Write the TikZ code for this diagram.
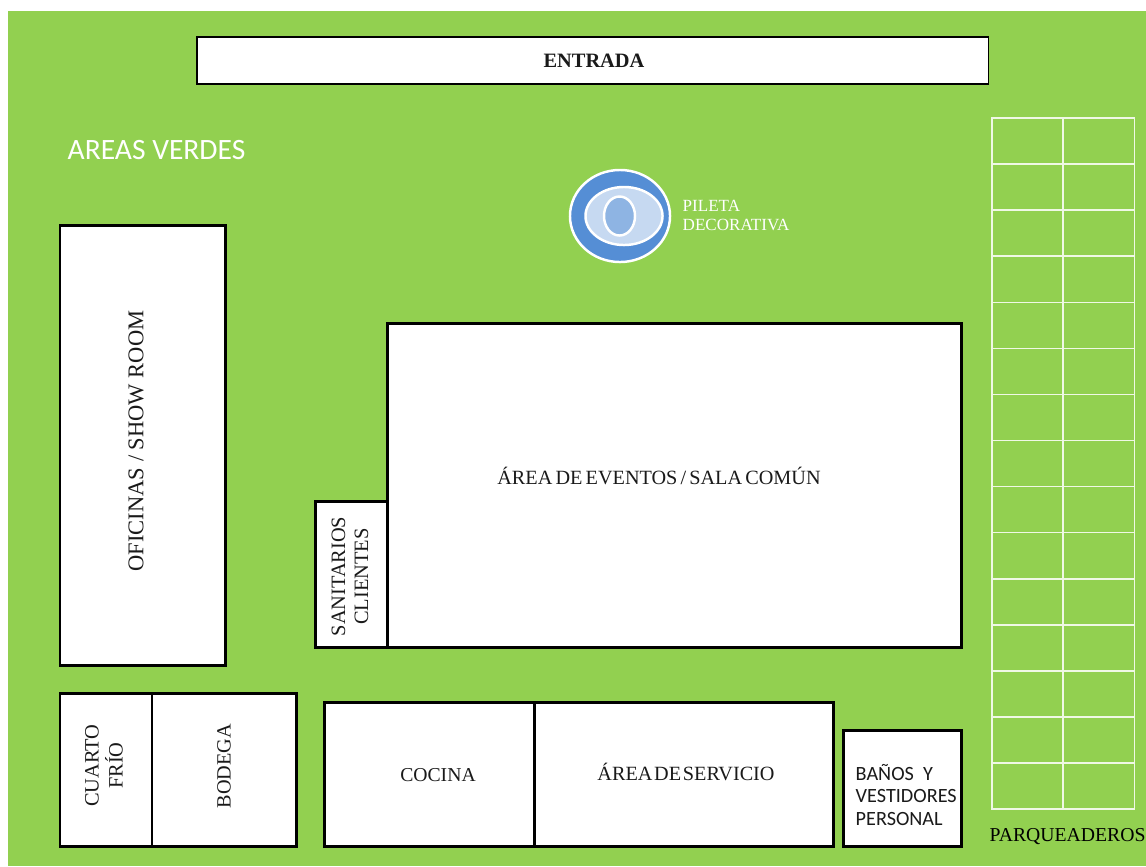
\documentclass[tikz,border=0pt]{standalone}
\usepackage{fontspec}
\usetikzlibrary{shapes.geometric}
\setmainfont{Liberation Serif}
\newfontfamily\carlito{Carlito}
\definecolor{grass}{HTML}{92D050}
\definecolor{waterA}{HTML}{558ED5}
\definecolor{waterB}{HTML}{C6D9F1}
\definecolor{waterC}{HTML}{8EB4E3}
\definecolor{roomtext}{HTML}{1A1A1A}
\begin{document}
\begin{tikzpicture}[x=0.01cm, y=-0.01cm,
	room/.style={draw=black, fill=white, line width=0.85pt, anchor=north west, inner sep=0pt, outer sep=0pt},
	roomlabel/.style={text=roomtext, inner sep=0pt, align=center, font=\fontsize{5.75}{6.6}\selectfont},
	stall/.style={draw=white!85!grass, line width=0.45pt, anchor=north west, inner sep=0pt, outer sep=0pt, minimum width=0.715cm, minimum height=0.4607cm},
	pond/.style={draw=white, line width=0.7pt, ellipse, inner sep=0pt}]
	\useasboundingbox (0, 0) rectangle (1146, 866);
	\fill[grass] (8, 11) rectangle (1146, 866);

	\node[room, line width=0.55pt, minimum width=7.91cm, minimum height=0.47cm] at (197, 37) (entrada) {};
	\node[room, minimum width=1.65cm, minimum height=4.40cm] at (60, 225) (oficinas) {};
	\node[room, minimum width=5.74cm, minimum height=3.24cm] at (387, 323) (eventos) {};
	\node[room, minimum width=0.72cm, minimum height=1.46cm] at (315, 501) (sanitarios) {};
	\node[room, minimum width=0.92cm, minimum height=1.53cm] at (60, 693) (cuarto) {};
	\node[room, minimum width=1.44cm, minimum height=1.53cm] at (152, 693) (bodega) {};
	\node[room, minimum width=2.10cm, minimum height=1.44cm] at (324, 702) (cocina) {};
	\node[room, minimum width=2.99cm, minimum height=1.44cm] at (534, 702) (servicio) {};
	\node[room, minimum width=1.18cm, minimum height=1.16cm] at (843, 730) (banos) {};

	\node[roomlabel, font=\fontsize{5.8}{6.6}\selectfont\bfseries] at (594, 60.5) (entradalabel) {ENTRADA};
	\node[roomlabel, rotate=90, font=\fontsize{6.4}{7}\selectfont] at (136, 441) (oficinaslabel) {OFICINAS / SHOW ROOM};
	\node[roomlabel] at (659, 476) (eventoslabel) {\spaceskip=0.9pt ÁREA DE EVENTOS / SALA COMÚN};
	\node[roomlabel, rotate=90, font=\fontsize{5.8}{6.5}\selectfont] at (350, 576.5) (sanitarioslabel) {SANITARIOS\\CLIENTES};
	\node[roomlabel, rotate=90, font=\fontsize{5.8}{6.8}\selectfont] at (104, 765.5) (cuartolabel) {CUARTO\\FRÍO};
	\node[roomlabel, rotate=90] at (224, 766) (bodegalabel) {BODEGA};
	\node[roomlabel, font=\fontsize{5.6}{6.6}\selectfont] at (438, 775) (cocinalabel) {COCINA};
	\node[roomlabel] at (686, 772) (serviciolabel) {\spaceskip=0.5pt ÁREA DE SERVICIO};
	\node[roomlabel, font=\carlito\fontsize{5.75}{6.4}\selectfont, align=left, anchor=west] at (855, 794.5) (banoslabel) {BAÑOS~~Y\\VESTIDORES\\PERSONAL};

	\node[font=\carlito\fontsize{8.4}{10}\selectfont, text=white, inner sep=0pt, anchor=west] at (67, 150) (verdes) {AREAS VERDES};

	\node[pond, fill=waterA, minimum width=1.00cm, minimum height=0.92cm] at (620, 216) (pileta1) {};
	\node[pond, fill=waterB, minimum width=0.77cm, minimum height=0.58cm] at (624, 216) (pileta2) {};
	\node[pond, fill=waterC, minimum width=0.31cm, minimum height=0.39cm] at (619.5, 216) (pileta3) {};
	\node[font=\fontsize{4.85}{5.4}\selectfont, text=white, inner sep=0pt, align=left, anchor=west] at (682, 215) (piletalabel) {PILETA\\DECORATIVA};

	\foreach \row in {0,...,14} {
		\node[stall] at (992, 118+46.07*\row) (stall-a\row) {};
		\node[stall] at (1063, 118+46.07*\row) (stall-b\row) {};
	}
	\node[font=\fontsize{5.6}{6.6}\selectfont, text=black, inner sep=0pt, anchor=west] at (989, 837) (parqueaderos) {PARQUEADEROS};
\end{tikzpicture}
\end{document}
